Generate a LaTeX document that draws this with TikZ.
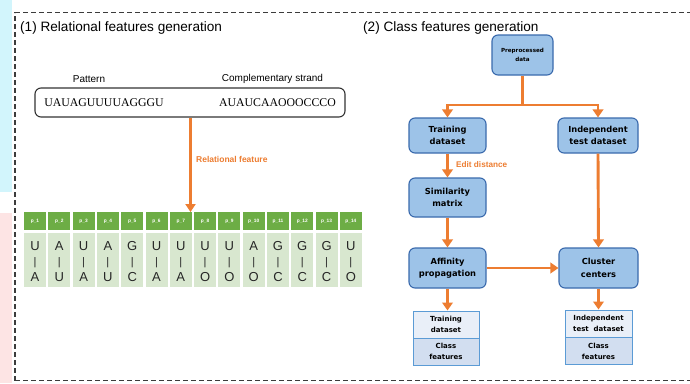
\documentclass[tikz,border=0pt]{standalone}
\usepackage{fontspec}
\setmainfont{Liberation Sans}
\newfontfamily\boxfont{DejaVu Sans}
\newfontfamily\strandfont{Liberation Serif}
\usetikzlibrary{arrows.meta}

\definecolor{flow}{HTML}{ED7D31}
\definecolor{boxfill}{HTML}{9DC3E8}
\definecolor{boxline}{HTML}{3A6AAD}
\definecolor{outline}{HTML}{5B9BD5}
\definecolor{outtop}{HTML}{E9EFF8}
\definecolor{outbot}{HTML}{D2DEF0}
\definecolor{hdgreen}{HTML}{6DAD45}
\definecolor{bdgreen}{HTML}{D8E7CF}
\definecolor{frame}{HTML}{3C3C3C}
\definecolor{stripcyan}{HTML}{D2F5FC}
\definecolor{strippink}{HTML}{FDE4E4}

\tikzset{
  framestyle/.style={draw=frame, line width=1.2pt, dash pattern=on 5pt off 3pt},
  flowbox/.style={draw=boxline, fill=boxfill, line width=1.1pt, rounded corners=6pt,
    inner sep=0pt, align=center, text=black,
    font=\boxfont\bfseries\fontsize{8.3}{12.5}\selectfont},
  outcell/.style={draw=outline, line width=1pt, inner sep=0pt, align=center,
    minimum width=66pt, minimum height=27pt,
    font=\boxfont\bfseries\fontsize{7}{11}\selectfont},
  flowarrow/.style={draw=flow, line width=2.9pt, -{Triangle[length=8pt,width=10.5pt]}},
  flowline/.style={draw=flow, line width=2.9pt},
  flowlabel/.style={text=flow, font=\bfseries\fontsize{8.2}{10}\selectfont, inner sep=0pt},
  titletext/.style={font=\fontsize{13.6}{16}\selectfont, inner sep=0pt},
  hdcell/.style={fill=hdgreen, minimum width=22pt, minimum height=18pt, inner sep=0pt,
    text=white, font=\bfseries\fontsize{4.8}{5}\selectfont},
  bdcell/.style={fill=bdgreen, minimum width=22pt, minimum height=54pt, inner sep=0pt},
  basetxt/.style={inner sep=0pt, anchor=base, text=black!85, font=\fontsize{13}{13}\selectfont},
  bartxt/.style={inner sep=0pt, anchor=base, text=black!85, font=\fontsize{11}{11}\selectfont},
  smalllabel/.style={inner sep=0pt, font=\fontsize{10}{12}\selectfont},
  strandtxt/.style={inner sep=0pt, font=\strandfont\fontsize{11.8}{13}\selectfont},
}

\begin{document}
\begin{tikzpicture}[x=1pt,y=-1pt]
\useasboundingbox (0,0) rectangle (690,383);
\fill[white] (0,0) rectangle (690,383);

% faint colour strip along the left edge
\fill[stripcyan] (0,0) rectangle (12,192);
\fill[strippink] (0,213) rectangle (12,383);

% dashed frame (open to the right)
\draw[framestyle] (15,380.5) -- (15,12.5) -- (690,12.5);
\draw[framestyle] (15,380.5) -- (690,380.5);

% ---------- (1) Relational features generation ----------
\node[titletext, anchor=base west] (t1) at (20,31) {(1) Relational features generation};

\node[smalllabel] (patlab) at (89,79) {Pattern};
\node[smalllabel] (complab) at (272.5,79) {Complementary strand};

\node[draw=black!80, line width=1.1pt, rounded corners=6pt, minimum width=310pt,
      minimum height=29pt, inner sep=0pt] (strand) at (190,102.5) {};
\node[strandtxt] (pat) at (104,103) {UAUAGUUUUAGGGU};
\node[strandtxt] (comp) at (277.5,103) {AUAUCAAOOOCCCO};

\foreach \t/\b [count=\i] in {U/A,A/U,U/A,A/U,G/C,U/A,U/A,U/O,U/O,A/O,G/C,G/C,G/C,U/O}{
  \pgfmathsetmacro\cx{35+(\i-1)*24.3}
  \node[hdcell] (hd\i) at (\cx,221) {p\_\i};
  \node[bdcell] (bd\i) at (\cx,260) {};
  \node[basetxt] (up\i) at (\cx,250) {\t};
  \node[bartxt] (bar\i) at (\cx,265) {|};
  \node[basetxt] (dn\i) at (\cx,281.5) {\b};
}

\coordinate (tabtop) at (190.5,212);
\draw[draw=flow, line width=2.4pt, -{Triangle[length=8pt,width=10pt]}]
  (strand.south -| tabtop) -- (tabtop);
\node[flowlabel, anchor=west, font=\bfseries\fontsize{8.5}{10}\selectfont] (rellab) at (196,159) {Relational feature};

% ---------- (2) Class features generation ----------
\node[titletext, anchor=base west] (t2) at (363,31) {(2) Class features generation};

\node[flowbox, minimum width=61pt, minimum height=40pt,
      font=\boxfont\bfseries\fontsize{5.6}{9}\selectfont] (pre) at (522.5,55) {Preprocessed\\data};
\node[flowbox, minimum width=77pt, minimum height=35pt] (train) at (447.5,135.5) {Training\\dataset};
\node[flowbox, minimum width=80pt, minimum height=35pt] (indep) at (598,135.5) {Independent\\test dataset};
\node[flowbox, minimum width=77pt, minimum height=39pt] (sim) at (447.5,197.5) {Similarity\\matrix};
\node[flowbox, minimum width=77pt, minimum height=40pt] (aff) at (447.5,268) {Affinity\\propagation};
\node[flowbox, minimum width=79pt, minimum height=40pt] (clus) at (598.5,268) {Cluster\\centers};

\node[outcell, fill=outtop] (outLa) at (446,324.5) {Training\\dataset};
\node[outcell, fill=outbot] (outLb) at (446,351.5) {Class\\features};
\node[outcell, fill=outtop, minimum width=67pt] (outRa) at (598.5,323.5) {Independent\\test\ \ dataset};
\node[outcell, fill=outbot, minimum width=67pt] (outRb) at (598.5,351) {Class\\features};

\coordinate (split) at (522.5,105);
\draw[flowline] (pre.south) -- (split);
\draw[flowarrow] (split) -| (train.north);
\draw[flowarrow] (split) -| (indep.north);
\draw[flowarrow] (train) -- (sim);
\node[flowlabel, anchor=west] (edit) at (456,165) {Edit distance};
\draw[flowarrow] (sim) -- (aff);
\draw[flowarrow] (indep.south) -- (clus.north);
\draw[flowarrow] (aff) -- (clus);
\draw[flowarrow] (aff.south) -- (outLa.north -| aff.south);
\draw[flowarrow] (clus.south) -- (outRa.north -| clus.south);
\end{tikzpicture}
\end{document}
